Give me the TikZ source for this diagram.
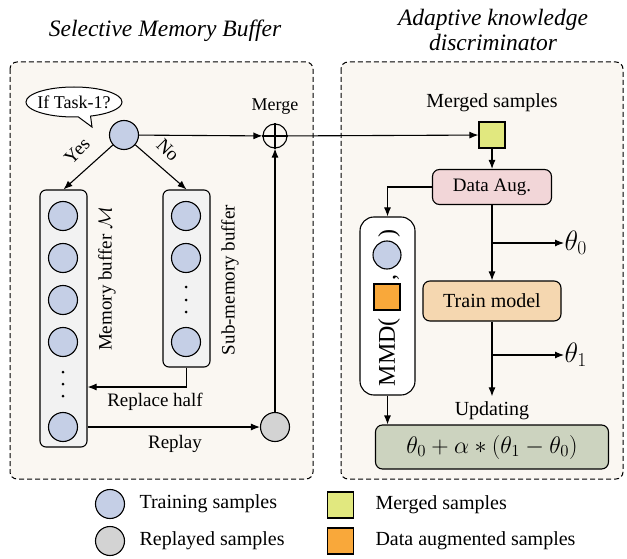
\documentclass[tikz,border=0pt]{standalone}
\usepackage{fix-cm}
\usepackage[no-math]{fontspec}
\setmainfont{Liberation Serif}
\usetikzlibrary{arrows.meta,shapes.callouts,shapes.geometric,calc}
\definecolor{panelbg}{HTML}{FAF7F2}
\definecolor{sampblue}{HTML}{C5CFE6}
\definecolor{sampgray}{HTML}{D3D3D3}
\definecolor{mergey}{HTML}{E1E87F}
\definecolor{augor}{HTML}{F9A83A}
\definecolor{bufbg}{HTML}{F2F2F2}
\definecolor{augpink}{HTML}{F2D6D8}
\definecolor{trainor}{HTML}{F5D7B0}
\definecolor{formg}{HTML}{CCD3BF}
\begin{document}
\begin{tikzpicture}[x=1pt,y=-1pt, line width=1.1pt,
 every node/.style={font=\fontsize{20}{23}\selectfont, inner sep=0pt},
 small/.style={font=\fontsize{19}{22}\selectfont},
 panel/.style={draw, dash pattern=on 5pt off 3pt, rounded corners=7pt, fill=panelbg, line width=1pt},
 samp/.style={circle, draw, fill=sampblue, minimum size=29pt},
 rsamp/.style={circle, draw, fill=sampgray, minimum size=29pt},
 buf/.style={draw, rounded corners=6pt, fill=bufbg},
 sq/.style={draw, minimum size=26pt},
 proc/.style={draw, rounded corners=7pt},
 arr/.style={-{Latex[length=9pt,width=7pt]}},
 ttl/.style={font=\fontsize{23.5}{25}\selectfont\itshape, align=center},
 th/.style={font=\fontsize{28}{32}\selectfont, anchor=west},
 dotm/.style={circle, fill=black, minimum size=3pt},
]
\useasboundingbox (0,0) rectangle (627,559);

% titles
\node[ttl] (t1) at (165,31) {Selective Memory Buffer};
\node[ttl] (t2) at (493,30) {Adaptive knowledge\\discriminator};

% panels
\draw[panel] (10,62) rectangle (313,479);
\draw[panel] (341,62) rectangle (623,479);

% ---------- left panel ----------
\node[ellipse callout, draw, fill=white, line width=1pt, minimum width=96pt, minimum height=30pt,
  callout absolute pointer={(92,127)}, font=\fontsize{18}{20}\selectfont] (bubble) at (74,102) {\makebox[50pt]{If Task-1?}};
\node[samp] (top) at (124,135) {};
\node[circle, draw, minimum size=24pt] (merge) at (275,136) {};
\draw (merge.north) -- (merge.south) (merge.west) -- (merge.east);
\node (mergelbl) at (275,107) {\fontsize{18}{20}\selectfont Merge};

\node[buf, minimum width=47pt, minimum height=257pt] (mem) at (63.5,318.5) {};
\node[buf, minimum width=47pt, minimum height=177pt] (sub) at (186.5,278.5) {};

\node[samp] (m1) at (63,216) {};
\node[samp] (m2) at (63,258) {};
\node[samp] (m3) at (63,300) {};
\node[samp] (m4) at (63,342) {};
\node[samp] (m5) at (63,427) {};
\node[dotm] (md1) at (63,372) {};
\node[dotm] (md2) at (63,384) {};
\node[dotm] (md3) at (63,396) {};

\node[samp] (s1) at (186,216) {};
\node[samp] (s2) at (186,258) {};
\node[samp] (s3) at (186,342) {};
\node[dotm] (sd1) at (186,287) {};
\node[dotm] (sd2) at (186,300) {};
\node[dotm] (sd3) at (186,312) {};

\node[rotate=90, small] (memlbl) at (107,279) {Memory buffer $\mathcal{M}$};
\node[rotate=90, small] (sublbl) at (230,280) {Sub-memory buffer};

\node[rsamp] (gray) at (275,427) {};

\draw[arr] (top) -- (mem.north);
\draw[arr] (top) -- (sub.north);
\node[rotate=45, small] (yes) at (77,151) {Yes};
\node[rotate=-45, small] (no) at (168,150) {No};
\draw[arr] (top) -- (merge);

\coordinate (rhy) at (0,387);
\draw[arr] (sub.south) |- (mem.east |- rhy);
\node[small] (rhlbl) at (155,402) {Replace half};
\draw[arr] (m5 -| mem.east) -- (gray);
\node[small] (rplbl) at (175,444) {Replay};
\draw[arr] (gray) -- (merge);

% ---------- right panel ----------
\node (mslbl) at (492,103) {Merged samples};
\node[sq, fill=mergey] (ysq) at (492,135) {};
\draw[arr] (merge) -- (ysq);
\node[proc, small, fill=augpink, minimum width=119pt, minimum height=35pt] (daug) at (492,187) {Data Aug.};
\draw[arr] (ysq) -- (daug);

\node[draw, rounded corners=14pt, fill=white, minimum width=55pt, minimum height=178pt] (mmd) at (387.5,306) {};
\node[samp, minimum size=28pt] (mc) at (387,255) {};
\node[sq, fill=augor] (ms) at (387,297) {};
\node[rotate=90, font=\fontsize{24}{28}\selectfont] (mmdt) at (389,352) {MMD(};
\node[rotate=90, font=\fontsize{24}{28}\selectfont] (mcom) at (396,277) {,};
\node[rotate=90, font=\fontsize{24}{28}\selectfont] (mpar) at (389,234) {)};
\draw[arr] (daug.west) -| (mmd.north);

\node[proc, fill=trainor, minimum width=138pt, minimum height=40pt] (train) at (492,301) {Train model};
\draw[arr] (daug) -- (train);
\coordinate (b0) at (492,243);
\node[th] (th0) at (564,243) {$\theta_0$};
\draw[arr] (b0) -- (th0.west);

\node (upd) at (492,411) {Updating};
\draw[arr] (train.south) -- ($(upd.north)+(0,-5)$);
\coordinate (b1) at (492,355);
\node[th] (th1) at (564,355) {$\theta_1$};
\draw[arr] (b1) -- (th1.west);

\node[proc, fill=formg, minimum width=233pt, minimum height=44pt, font=\fontsize{24}{28}\selectfont] (form) at (492,447) {$\theta_0+\alpha*(\theta_1-\theta_0)$};
\draw[arr] (mmd.south) -- (mmd.south |- form.north);

% ---------- legend ----------
\node[samp] (lg1) at (110,504) {};
\node[anchor=west] (lt1) at (139,504) {Training samples};
\node[rsamp] (lg2) at (110,541) {};
\node[anchor=west] (lt2) at (139,541) {Replayed samples};
\node[sq, fill=mergey] (lg3) at (340.5,505) {};
\node[anchor=west] (lt3) at (375,505) {Merged samples};
\node[sq, fill=augor] (lg4) at (340.5,541) {};
\node[anchor=west] (lt4) at (375,541) {Data augmented samples};
\end{tikzpicture}
\end{document}
